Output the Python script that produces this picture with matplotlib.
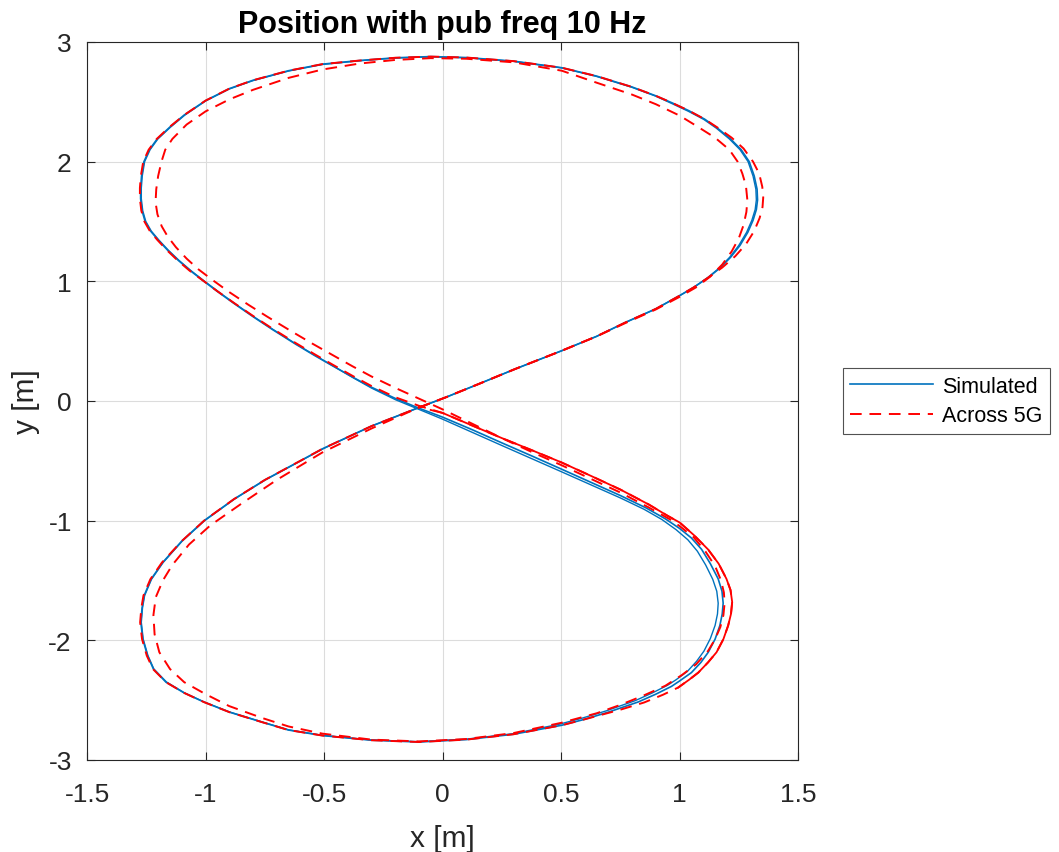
import matplotlib
matplotlib.use("Agg")
import matplotlib.pyplot as plt
import numpy as np

plt.rcParams['font.family'] = ['Liberation Sans', 'DejaVu Sans']
plt.rcParams['axes.unicode_minus'] = False

# simulated path, lap 1 (x, y)
sim_lap1 = [(-0.10, -0.055), (0.013, 0.03), (0.15, 0.14), (0.306, 0.267), (0.503, 0.42),
            (0.65, 0.54), (0.77, 0.655), (0.90, 0.77), (1.0, 0.88), (1.06, 0.95),
            (1.12, 1.03), (1.17, 1.11), (1.215, 1.20), (1.255, 1.30), (1.288, 1.41),
            (1.31, 1.51), (1.324, 1.60), (1.329, 1.68), (1.327, 1.77), (1.315, 1.88),
            (1.294, 2.0), (1.26, 2.1), (1.215, 2.19), (1.16, 2.28), (1.106, 2.355),
            (1.04, 2.425), (0.97, 2.49), (0.9, 2.55), (0.798, 2.625), (0.65, 2.715),
            (0.503, 2.785), (0.3, 2.84), (0.1, 2.87), (-0.05, 2.878), (-0.2, 2.868),
            (-0.35, 2.845), (-0.507, 2.815), (-0.65, 2.76), (-0.8, 2.68), (-0.9, 2.61),
            (-1.0, 2.51), (-1.09, 2.39), (-1.150, 2.29), (-1.204, 2.19), (-1.237, 2.1),
            (-1.26, 2.0), (-1.27, 1.88), (-1.274, 1.78), (-1.274, 1.69), (-1.268, 1.59),
            (-1.255, 1.50), (-1.232, 1.42), (-1.20, 1.345), (-1.16, 1.26), (-1.115, 1.175),
            (-1.065, 1.09), (-1.01, 1.005), (-0.95, 0.915), (-0.88, 0.815), (-0.80, 0.705),
            (-0.72, 0.60), (-0.62, 0.475), (-0.54, 0.38), (-0.465, 0.295), (-0.38, 0.20),
            (-0.3, 0.115), (-0.198, 0.02), (-0.10, -0.06), (0.0, -0.135), (0.125, -0.24),
            (0.25, -0.35), (0.375, -0.458), (0.5, -0.568), (0.625, -0.679), (0.75, -0.79),
            (0.86, -0.895), (0.94, -0.985), (1.0, -1.065), (1.05, -1.145), (1.093, -1.24),
            (1.13, -1.36), (1.163, -1.487), (1.179, -1.59), (1.184, -1.69), (1.18, -1.78),
            (1.17, -1.877), (1.15, -1.99), (1.121, -2.10), (1.09, -2.185), (1.05, -2.27),
            (1.0, -2.34), (0.966, -2.385), (0.9, -2.45), (0.826, -2.515), (0.7, -2.60),
            (0.6, -2.66), (0.503, -2.71), (0.3, -2.785), (0.1, -2.83), (-0.1, -2.85),
            (-0.3, -2.835), (-0.507, -2.796), (-0.65, -2.75), (-0.76, -2.685), (-0.9, -2.60),
            (-1.006, -2.517), (-1.09, -2.44), (-1.167, -2.35), (-1.22, -2.24), (-1.245, -2.128),
            (-1.265, -1.99), (-1.273, -1.85), (-1.268, -1.73), (-1.259, -1.626), (-1.23, -1.49),
            (-1.181, -1.35), (-1.10, -1.17), (-1.006, -1.0), (-0.88, -0.82), (-0.75, -0.66),
            (-0.6, -0.50), (-0.507, -0.40), (-0.3, -0.21), (-0.10, -0.055)]

# simulated path, lap 2 (runs a little inside on the lower right lobe)
sim_lap2 = [(-0.10, -0.055), (0.013, 0.03), (0.15, 0.14), (0.306, 0.267), (0.503, 0.42),
            (0.65, 0.54), (0.77, 0.655), (0.90, 0.77), (1.0, 0.88), (1.06, 0.95),
            (1.118, 1.03), (1.167, 1.11), (1.211, 1.20), (1.25, 1.30), (1.283, 1.41),
            (1.305, 1.51), (1.319, 1.60), (1.324, 1.68), (1.322, 1.77), (1.31, 1.88),
            (1.289, 2.0), (1.255, 2.1), (1.21, 2.19), (1.155, 2.28), (1.102, 2.353),
            (1.036, 2.422), (0.966, 2.487), (0.9, 2.547), (0.798, 2.622), (0.65, 2.712),
            (0.503, 2.783), (0.3, 2.838), (0.1, 2.868), (-0.05, 2.876), (-0.2, 2.866),
            (-0.35, 2.843), (-0.507, 2.812), (-0.65, 2.757), (-0.8, 2.677), (-0.9, 2.607),
            (-1.0, 2.507), (-1.088, 2.388), (-1.148, 2.288), (-1.201, 2.19), (-1.234, 2.1),
            (-1.257, 2.0), (-1.267, 1.88), (-1.271, 1.78), (-1.271, 1.69), (-1.265, 1.59),
            (-1.252, 1.50), (-1.229, 1.42), (-1.197, 1.345), (-1.157, 1.26), (-1.112, 1.175),
            (-1.062, 1.09), (-1.007, 1.005), (-0.947, 0.915), (-0.877, 0.815), (-0.797, 0.705),
            (-0.717, 0.60), (-0.617, 0.475), (-0.537, 0.38), (-0.462, 0.293), (-0.378, 0.195),
            (-0.3, 0.108), (-0.198, 0.01), (-0.10, -0.07), (0.0, -0.152), (0.125, -0.262),
            (0.25, -0.372), (0.375, -0.481), (0.5, -0.59), (0.625, -0.70), (0.75, -0.81),
            (0.85, -0.905), (0.925, -0.99), (0.985, -1.075), (1.035, -1.16), (1.075, -1.255),
            (1.11, -1.37), (1.14, -1.49), (1.157, -1.59), (1.163, -1.69), (1.16, -1.78),
            (1.15, -1.875), (1.13, -1.985), (1.103, -2.09), (1.072, -2.175), (1.033, -2.26),
            (0.985, -2.33), (0.95, -2.375), (0.885, -2.44), (0.812, -2.505), (0.69, -2.59),
            (0.59, -2.65), (0.495, -2.70), (0.3, -2.78), (0.1, -2.826), (-0.1, -2.847),
            (-0.3, -2.833), (-0.507, -2.794), (-0.65, -2.748), (-0.76, -2.683), (-0.9, -2.598),
            (-1.006, -2.515), (-1.09, -2.438), (-1.165, -2.348), (-1.218, -2.24), (-1.243, -2.128),
            (-1.263, -1.99), (-1.271, -1.85), (-1.266, -1.73), (-1.257, -1.626), (-1.228, -1.49),
            (-1.179, -1.35), (-1.098, -1.17), (-1.004, -1.0), (-0.878, -0.82), (-0.748, -0.66),
            (-0.598, -0.50), (-0.505, -0.40), (-0.3, -0.21), (-0.10, -0.055)]

# 5G path, lap 1 (outer on the right lobes)
net_lap1 = [(-0.10, -0.055), (0.013, 0.03), (0.15, 0.14), (0.306, 0.267), (0.503, 0.42),
            (0.65, 0.54), (0.77, 0.655), (0.90, 0.77), (1.0, 0.88), (1.06, 0.95),
            (1.12, 1.03), (1.18, 1.115), (1.235, 1.21), (1.28, 1.31), (1.315, 1.42),
            (1.338, 1.53), (1.35, 1.62), (1.353, 1.70), (1.349, 1.79), (1.336, 1.90),
            (1.31, 2.0), (1.27, 2.11), (1.22, 2.2), (1.16, 2.285), (1.106, 2.355),
            (1.04, 2.425), (0.97, 2.49), (0.9, 2.55), (0.798, 2.625), (0.65, 2.715),
            (0.503, 2.785), (0.3, 2.84), (0.1, 2.87), (-0.05, 2.878), (-0.2, 2.868),
            (-0.35, 2.845), (-0.507, 2.815), (-0.65, 2.76), (-0.8, 2.68), (-0.9, 2.61),
            (-1.0, 2.51), (-1.09, 2.39), (-1.152, 2.29), (-1.206, 2.19), (-1.24, 2.1),
            (-1.263, 2.0), (-1.273, 1.88), (-1.277, 1.78), (-1.277, 1.69), (-1.271, 1.59),
            (-1.258, 1.50), (-1.235, 1.42), (-1.203, 1.345), (-1.163, 1.26), (-1.118, 1.175),
            (-1.068, 1.09), (-1.012, 1.008), (-0.952, 0.92), (-0.882, 0.822), (-0.802, 0.714),
            (-0.722, 0.61), (-0.622, 0.487), (-0.542, 0.393), (-0.465, 0.305), (-0.38, 0.21),
            (-0.3, 0.125), (-0.198, 0.03), (-0.10, -0.04), (0.0, -0.10), (0.125, -0.205),
            (0.25, -0.31), (0.375, -0.41), (0.5, -0.512), (0.625, -0.625), (0.75, -0.74),
            (0.87, -0.865), (0.95, -0.96), (1.0, -1.015), (1.06, -1.12), (1.12, -1.24),
            (1.165, -1.36), (1.198, -1.487), (1.215, -1.58), (1.222, -1.68), (1.217, -1.78),
            (1.205, -1.877), (1.185, -1.99), (1.156, -2.10), (1.12, -2.185), (1.079, -2.27),
            (1.04, -2.33), (0.994, -2.395), (0.93, -2.455), (0.85, -2.52), (0.75, -2.58),
            (0.6, -2.66), (0.503, -2.71), (0.3, -2.785), (0.1, -2.83), (-0.1, -2.85),
            (-0.3, -2.835), (-0.507, -2.796), (-0.65, -2.75), (-0.76, -2.685), (-0.9, -2.60),
            (-1.006, -2.517), (-1.09, -2.44), (-1.167, -2.35), (-1.222, -2.24), (-1.248, -2.128),
            (-1.268, -1.99), (-1.276, -1.85), (-1.271, -1.73), (-1.262, -1.626), (-1.233, -1.49),
            (-1.184, -1.35), (-1.10, -1.17), (-1.006, -1.0), (-0.88, -0.82), (-0.75, -0.66),
            (-0.6, -0.50), (-0.507, -0.40), (-0.3, -0.21), (-0.10, -0.055)]

# 5G path, lap 2 (inner on the left lobes)
net_lap2 = [(-0.10, -0.055), (0.013, 0.03), (0.15, 0.14), (0.306, 0.267), (0.503, 0.42),
            (0.65, 0.54), (0.77, 0.65), (0.90, 0.765), (1.0, 0.87), (1.07, 0.95),
            (1.13, 1.04), (1.18, 1.14), (1.22, 1.25), (1.25, 1.36), (1.27, 1.47),
            (1.282, 1.58), (1.286, 1.68), (1.28, 1.80), (1.265, 1.90), (1.245, 2.0),
            (1.21, 2.10), (1.15, 2.20), (1.07, 2.30), (1.0, 2.385), (0.9, 2.48),
            (0.8, 2.56), (0.65, 2.66), (0.503, 2.76), (0.3, 2.83), (0.1, 2.86),
            (-0.05, 2.865), (-0.2, 2.85), (-0.35, 2.82), (-0.507, 2.77), (-0.65, 2.70),
            (-0.8, 2.60), (-0.9, 2.52), (-1.0, 2.42), (-1.08, 2.31), (-1.14, 2.19),
            (-1.17, 2.10), (-1.186, 2.0), (-1.2, 1.88), (-1.208, 1.77), (-1.211, 1.66),
            (-1.203, 1.56), (-1.185, 1.46), (-1.16, 1.375), (-1.125, 1.285), (-1.08, 1.19),
            (-1.03, 1.10), (-0.97, 1.01), (-0.9, 0.91), (-0.82, 0.805), (-0.74, 0.705),
            (-0.64, 0.585), (-0.55, 0.48), (-0.465, 0.385), (-0.38, 0.29), (-0.3, 0.205),
            (-0.2, 0.11), (-0.1, 0.02), (0.0, -0.07), (0.125, -0.19), (0.25, -0.31),
            (0.375, -0.425), (0.5, -0.535), (0.625, -0.65), (0.75, -0.765),
            (0.87, -0.89), (0.96, -0.99), (1.0, -1.045), (1.06, -1.14), (1.11, -1.26),
            (1.15, -1.38), (1.175, -1.50), (1.187, -1.60), (1.19, -1.69), (1.185, -1.79),
            (1.172, -1.89), (1.15, -1.99), (1.12, -2.09), (1.07, -2.20), (1.01, -2.29),
            (0.94, -2.38), (0.85, -2.46), (0.75, -2.54), (0.65, -2.61), (0.5, -2.69),
            (0.3, -2.775), (0.1, -2.825), (-0.1, -2.845), (-0.3, -2.83), (-0.507, -2.78),
            (-0.65, -2.72), (-0.76, -2.65), (-0.9, -2.55), (-1.0, -2.45), (-1.09, -2.35),
            (-1.15, -2.24), (-1.195, -2.10), (-1.215, -1.95), (-1.22, -1.79), (-1.21, -1.64),
            (-1.18, -1.50), (-1.14, -1.37), (-1.07, -1.20), (-0.98, -1.04), (-0.85, -0.86),
            (-0.7, -0.66), (-0.507, -0.43), (-0.3, -0.23), (-0.10, -0.055)]

# stretch of the 5G path that reads as a solid line (lower right lobe, outer)
net_dense = [(-0.05, -0.075), (0.0, -0.10), (0.125, -0.205), (0.25, -0.31), (0.375, -0.41),
             (0.5, -0.512), (0.625, -0.625), (0.75, -0.74), (0.87, -0.865), (0.95, -0.96),
             (1.0, -1.015), (1.06, -1.12), (1.12, -1.24), (1.165, -1.36), (1.198, -1.487),
             (1.215, -1.58), (1.222, -1.68), (1.217, -1.78), (1.205, -1.877), (1.185, -1.99),
             (1.156, -2.10), (1.12, -2.185), (1.079, -2.27), (1.04, -2.33), (0.994, -2.395)]

xticks = [-1.5, -1, -0.5, 0, 0.5, 1, 1.5]
yticks = [-3, -2, -1, 0, 1, 2, 3]
xticklabels = ['-1.5', '-1', '-0.5', '0', '0.5', '1', '1.5']
yticklabels = ['-3', '-2', '-1', '0', '1', '2', '3']

blue = '#0072BD'
red = '#FF0000'
dark = '#262626'

fig = plt.figure(figsize=(10.59, 8.53), dpi=100)
ax = fig.add_axes([0.0822, 0.1079, 0.6714, 0.8417])

for i, lap in enumerate([sim_lap1, sim_lap2]):
    p = np.array(lap)
    ax.plot(p[:, 0], p[:, 1], color=blue, lw=1.2 if i == 0 else 1.0,
            solid_joinstyle='round', label='Simulated' if i == 0 else None)
p = np.array(net_dense)
ax.plot(p[:, 0], p[:, 1], color=red, lw=1.3, solid_joinstyle='round')
for i, lap in enumerate([net_lap1, net_lap2]):
    p = np.array(lap)
    ax.plot(p[:, 0], p[:, 1], color=red, lw=1.4, ls=(0, (6, 4)),
            label='Across 5G' if i == 0 else None)

ax.set_xlim(-1.5, 1.5)
ax.set_ylim(-3, 3)
ax.set_xticks(xticks)
ax.set_yticks(yticks)
ax.set_xticklabels(xticklabels)
ax.set_yticklabels(yticklabels)
ax.grid(True, color='#dcdcdc', lw=0.8)
ax.set_axisbelow(True)
ax.tick_params(direction='in', length=6, width=0.8, labelsize=19, color=dark,
               labelcolor=dark, top=True, right=True)
ax.tick_params(axis='x', pad=16)
ax.tick_params(axis='y', pad=11)
for s in ax.spines.values():
    s.set_color(dark)
    s.set_linewidth(0.8)

ax.set_xlabel('x [m]', fontsize=21.5, color=dark, labelpad=13)
ax.set_ylabel('y [m]', fontsize=21.5, color=dark, labelpad=6)
ax.set_title('Position with pub freq 10 Hz', fontsize=22, fontweight='bold', pad=7)

leg = ax.legend(loc='upper left', bbox_to_anchor=(0.7957, 0.567),
                bbox_transform=fig.transFigure, fontsize=15.5, frameon=True,
                fancybox=False, handlelength=3.85, borderpad=0.35, labelspacing=0.4,
                handletextpad=0.4, borderaxespad=0)
leg.get_frame().set_edgecolor(dark)
leg.get_frame().set_linewidth(0.8)

fig.savefig('out.png', dpi=100)
